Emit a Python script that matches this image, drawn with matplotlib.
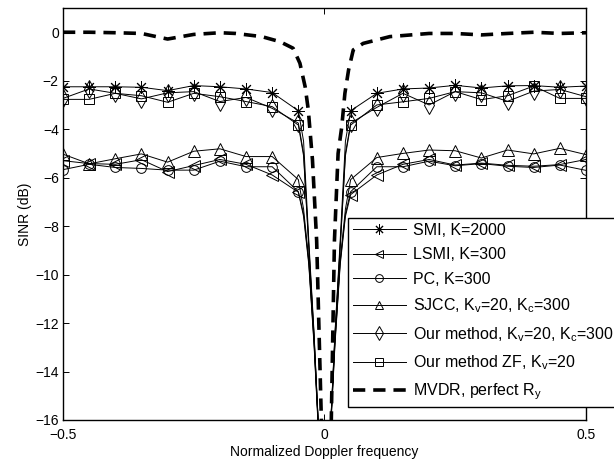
import matplotlib
matplotlib.use("Agg")
import matplotlib.pyplot as plt


plt.rcParams["font.family"] = ["Liberation Sans", "DejaVu Sans"]
plt.rcParams["mathtext.default"] = "regular"


# -----------------------------
# Data
# -----------------------------

freq = [-0.5, -0.45, -0.4, -0.35, -0.3, -0.25, -0.2, -0.15, -0.1, -0.05,
        -0.04, -0.03, -0.02, -0.01, 0.0, 0.01, 0.02, 0.03, 0.04,
        0.05, 0.1, 0.15, 0.2, 0.25, 0.3, 0.35, 0.4, 0.45, 0.5]

# marker every 0.05, no markers in the notch
marker_idx = list(range(0, 10)) + list(range(19, 29))

sinr_smi = [-2.25, -2.25, -2.25, -2.27, -2.41, -2.20, -2.25, -2.34, -2.49, -3.24,
            -4.5, -8.6, -12.4, -17.0, -30.0, -17.0, -12.4, -8.6, -4.5,
            -3.24, -2.52, -2.34, -2.30, -2.19, -2.30, -2.21, -2.20, -2.27, -2.22]
sinr_lsmi = [-5.30, -5.42, -5.45, -5.26, -5.75, -5.50, -5.25, -5.45, -5.89, -6.60,
             -7.6, -9.6, -12.9, -17.2, -30.0, -17.2, -12.9, -9.6, -7.6,
             -6.70, -5.89, -5.45, -5.25, -5.48, -5.40, -5.49, -5.53, -5.46, -5.25]
sinr_pc = [-5.67, -5.45, -5.58, -5.62, -5.69, -5.69, -5.32, -5.55, -5.55, -6.58,
           -7.5, -9.5, -12.8, -17.1, -30.0, -17.1, -12.8, -9.5, -7.5,
           -6.58, -5.55, -5.55, -5.32, -5.51, -5.42, -5.53, -5.58, -5.48, -5.70]
sinr_sjcc = [-5.03, -5.43, -5.22, -5.02, -5.36, -4.91, -4.81, -5.13, -5.13, -6.08,
             -7.3, -9.4, -12.7, -17.0, -30.0, -17.0, -12.7, -9.4, -7.3,
             -6.08, -5.17, -5.00, -4.86, -4.89, -5.19, -4.86, -5.02, -4.79, -5.05]
sinr_ours = [-2.73, -2.34, -2.52, -2.75, -2.50, -2.45, -2.86, -2.69, -3.14, -3.75,
             -5.0, -8.8, -12.5, -17.0, -30.0, -17.0, -12.5, -8.8, -5.0,
             -3.75, -3.10, -2.52, -3.00, -2.45, -2.50, -2.85, -2.43, -2.36, -2.66]
sinr_ours_zf = [-2.77, -2.77, -2.52, -2.62, -2.89, -2.52, -2.66, -2.86, -3.07, -3.83,
                -5.1, -8.9, -12.6, -17.0, -30.0, -17.0, -12.6, -8.9, -5.1,
                -3.83, -3.00, -2.87, -2.73, -2.45, -2.78, -2.62, -2.22, -2.73, -2.73]

mvdr_freq = [-0.5, -0.45, -0.4, -0.35, -0.3, -0.25, -0.2, -0.17, -0.12, -0.085,
             -0.06, -0.047, -0.037, -0.031, -0.023, -0.015, -0.006, 0.0,
             0.013, 0.019, 0.026, 0.033, 0.039, 0.046, 0.055, 0.074, 0.125,
             0.2, 0.25, 0.3, 0.35, 0.4, 0.45, 0.5]
mvdr_sinr = [0.0, 0.0, -0.02, -0.05, -0.28, -0.09, -0.02, -0.05, -0.18, -0.39,
             -0.66, -1.28, -2.25, -3.2, -5.27, -8.6, -16.0, -30.0,
             -16.0, -8.6, -5.0, -3.9, -2.52, -1.56, -0.73, -0.46, -0.18,
             -0.05, -0.05, -0.11, -0.05, 0.0, -0.05, -0.02]

labels = [
    "SMI, K=2000",
    "LSMI, K=300",
    "PC, K=300",
    "SJCC, K$_v$=20, K$_c$=300",
    "Our method, K$_v$=20, K$_c$=300",
    "Our method ZF, K$_v$=20",
    "MVDR, perfect R$_y$",
]


# -----------------------------
# Chart
# -----------------------------

fig = plt.figure(figsize=(6.14, 4.63), dpi=100)
ax = fig.add_axes([0.1026, 0.0929, 0.8518, 0.8898])

series = [
    (sinr_smi, (8, 2, 0), 9),
    (sinr_lsmi, "<", 8),
    (sinr_pc, "o", 7),
    (sinr_sjcc, "^", 8),
    (sinr_ours, "d", 9),
    (sinr_ours_zf, "s", 6.5),
]

for (values, marker, size), label in zip(series, labels[:6]):
    ax.plot(freq, values, color="black", linewidth=0.7, marker=marker,
            markersize=size, markerfacecolor="none", markeredgecolor="black",
            markeredgewidth=0.7, markevery=marker_idx, label=label)

ax.plot(mvdr_freq, mvdr_sinr, color="black", linewidth=2.6,
        dashes=(3.4, 2.2), label=labels[6])

ax.set_xlim(-0.5, 0.5)
ax.set_ylim(-16, 1)
ax.set_xticks([-0.5, 0, 0.5])
ax.set_xticklabels(["\u22120.5", "0", "0.5"])
ax.set_yticks(range(-16, 1, 2))
ax.tick_params(direction="in", top=True, right=True, length=4, width=0.7,
               labelsize=10)
ax.tick_params(axis="x", pad=6)
ax.tick_params(axis="y", pad=3)
for spine in ax.spines.values():
    spine.set_linewidth(1.0)

ax.set_xlabel("Normalized Doppler frequency", fontsize=10, labelpad=2)
ax.set_ylabel("SINR (dB)", fontsize=10, labelpad=2)

legend = ax.legend(loc="lower left", bbox_to_anchor=(0.545, 0.032),
                   borderaxespad=0, fontsize=11.5, frameon=True, fancybox=False,
                   edgecolor="black", framealpha=1, handlelength=3.3,
                   handletextpad=0.45, labelspacing=0.6, borderpad=0.3,
                   markerscale=0.8)
legend.get_frame().set_linewidth(1.0)

plt.savefig("out.png", dpi=100)
plt.close()
